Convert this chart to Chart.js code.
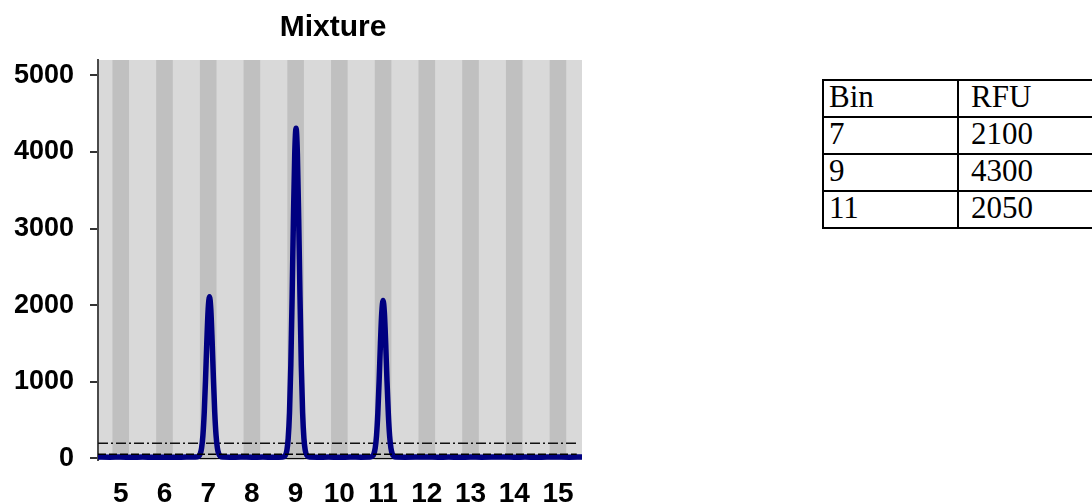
<!DOCTYPE html>
<html>
<head>
<meta charset="utf-8">
<script src="https://cdn.jsdelivr.net/npm/chart.js@4"></script>
<style>
  html, body { margin: 0; padding: 0; background: #fff; overflow: hidden; width: 1092px; height: 503px; }
  #wrap { position: absolute; left: 0; top: 0; width: 666px; height: 503px; }
  table { position: absolute; left: 822px; top: 79px; width: 300px; table-layout: fixed; border-collapse: collapse;
          font-family: "Liberation Serif", "Times New Roman", serif; font-size: 31px; color: #000; }
  td { border: 2px solid #000; height: 35px; padding: 0 0 0 5px; vertical-align: top; line-height: 31px; }
  td.c1 { width: 128px; }
  td.c2 { padding-left: 12px; }
</style>
</head>
<body>
<div id="wrap"><canvas id="mix" width="666" height="503"></canvas></div>
<table id="tbl"></table>
<script>
const bins = [5, 6, 7, 8, 9, 10, 11, 12, 13, 14, 15];
const yTicks = [0, 1000, 2000, 3000, 4000, 5000];

// trace (bin, RFU)
const traceX = [
  4.48, 4.75, 5.0, 5.25, 5.5, 5.75, 6.0, 6.25, 6.5, 6.7,
  6.78, 6.82, 6.85, 6.88, 6.91, 6.94, 6.97, 7.00, 7.03, 7.06, 7.09, 7.12, 7.15, 7.18, 7.21, 7.24, 7.28,
  7.35, 7.5, 7.75, 8.0, 8.25, 8.5, 8.7,
  8.76, 8.80, 8.83, 8.86, 8.89, 8.92, 8.95, 8.98, 9.01, 9.04, 9.07, 9.10, 9.13, 9.16, 9.19, 9.22, 9.26,
  9.32, 9.5, 9.75, 10.0, 10.25, 10.5, 10.7,
  10.75, 10.79, 10.82, 10.85, 10.88, 10.91, 10.94, 10.97, 11.00, 11.03, 11.06, 11.09, 11.12, 11.15, 11.18, 11.21, 11.25,
  11.3, 11.5, 11.75, 12.0, 12.25, 12.5, 12.75, 13.0, 13.25, 13.5, 13.75, 14.0, 14.25, 14.5, 14.75, 15.0, 15.25, 15.55
];
const traceY = [
  20, 17, 19, 16, 18, 15, 17, 16, 18, 19,
  28, 62, 137, 302, 601, 1038, 1537, 1949, 2110, 1949, 1537, 1038, 601, 302, 137, 62, 28,
  18, 16, 19, 17, 18, 16, 20,
  37, 106, 260, 599, 1213, 2109, 3135, 3980, 4310, 3980, 3135, 2109, 1213, 599, 260, 106, 37,
  19, 17, 18, 16, 19, 17, 18,
  28, 61, 134, 295, 587, 1013, 1501, 1903, 2060, 1903, 1501, 1013, 587, 295, 134, 61, 28,
  19, 17, 18, 20, 17, 18, 16, 19, 17, 18, 20, 17, 18, 16, 19, 18, 17, 19
];

const thresholdHigh = 200;
const thresholdLow = 55;
const thresholdEnd = 15.43;
const xMin = 4.48, xMax = 15.55;
const yMin = -20, yMax = 5200;

const tableHead = ['Bin', 'RFU'];
const tableBins = [7, 9, 11];
const tableRFU = [2100, 4300, 2050];

// table
const tbl = document.getElementById('tbl');
const rows = [tableHead].concat(tableBins.map((b, i) => [b, tableRFU[i]]));
rows.forEach(r => {
  const tr = document.createElement('tr');
  r.forEach((v, j) => {
    const td = document.createElement('td');
    td.className = j === 0 ? 'c1' : 'c2';
    td.textContent = v;
    tr.appendChild(td);
  });
  tbl.appendChild(tr);
});

const stripes = {
  id: 'stripes',
  beforeDraw(chart) {
    const { ctx, chartArea: a } = chart;
    const x = chart.scales.x;
    ctx.save();
    ctx.fillStyle = '#d9d9d9';
    ctx.fillRect(a.left, a.top, a.right - a.left, a.bottom - a.top);
    ctx.fillStyle = '#c0c0c0';
    bins.forEach(b => {
      const x1 = x.getPixelForValue(b - 0.19);
      const x2 = x.getPixelForValue(b + 0.19);
      ctx.fillRect(x1, a.top, x2 - x1, a.bottom - a.top);
    });
    ctx.restore();
  }
};

const font = '"Liberation Sans", Arial, sans-serif';

const data = {
  datasets: [
    {
      label: 'low',
      order: 0,
      data: [{ x: xMin, y: thresholdLow }, { x: thresholdEnd, y: thresholdLow }],
      borderColor: '#000',
      borderWidth: 1.5,
      borderDash: [8, 3],
      pointRadius: 0,
    },
    {
      label: 'Mixture',
      order: 1,
      data: traceX.map((x, i) => ({ x: x, y: traceY[i] })),
      borderColor: '#000080',
      borderWidth: 5.5,
      pointRadius: 0,
      cubicInterpolationMode: 'monotone',
      borderJoinStyle: 'round',
      borderCapStyle: 'round',
    },
    {
      label: 'high',
      order: 2,
      data: [{ x: xMin, y: thresholdHigh }, { x: thresholdEnd, y: thresholdHigh }],
      borderColor: '#111',
      borderWidth: 1.5,
      borderDash: [10, 3, 2, 3],
      pointRadius: 0,
    },
    {
      label: 'zero',
      order: 3,
      data: [{ x: xMin, y: 0 }, { x: xMax, y: 0 }],
      borderColor: '#000',
      borderWidth: 1,
      pointRadius: 0,
    },
  ],
};

const config = {
  type: 'line',
  data: data,
  plugins: [stripes],
  options: {
    responsive: false,
    animation: false,
    plugins: {
      legend: { display: false },
      tooltip: { enabled: false },
      title: {
        display: true,
        text: 'Mixture',
        color: '#000',
        font: { family: font, size: 30, weight: 'bold' },
        padding: { top: 10, bottom: 14 },
      },
    },
    scales: {
      x: {
        type: 'linear',
        min: xMin,
        max: xMax,
        border: { display: false },
        grid: { display: false, drawTicks: false },
        afterBuildTicks: s => { s.ticks = bins.map(v => ({ value: v })); },
        afterFit: s => { s.height = 43; },
        ticks: {
          color: '#000',
          padding: 17,
          maxRotation: 0,
          autoSkip: false,
          font: { family: font, size: 28, weight: 'bold' },
          callback: v => String(v),
        },
      },
      y: {
        min: yMin,
        max: yMax,
        border: { display: true, color: '#4a4a4a', width: 2 },
        grid: { drawOnChartArea: false, drawTicks: true, tickLength: 8, color: '#333', lineWidth: 2 },
        afterBuildTicks: s => { s.ticks = yTicks.map(v => ({ value: v })); },
        afterFit: s => { s.width = 98; },
        ticks: {
          color: '#000',
          padding: 16,
          font: { family: font, size: 27, weight: 'bold' },
          callback: v => String(v),
        },
      },
      // empty right-hand box, keeps the title centred over the whole figure
      yRight: {
        position: 'right',
        min: yMin,
        max: yMax,
        border: { display: false },
        grid: { display: false, drawTicks: false },
        ticks: { display: false },
        afterFit: s => { s.width = 84; },
      },
    },
  },
};

const chartMix = new Chart(document.getElementById('mix'), config);
</script>
</body>
</html>
